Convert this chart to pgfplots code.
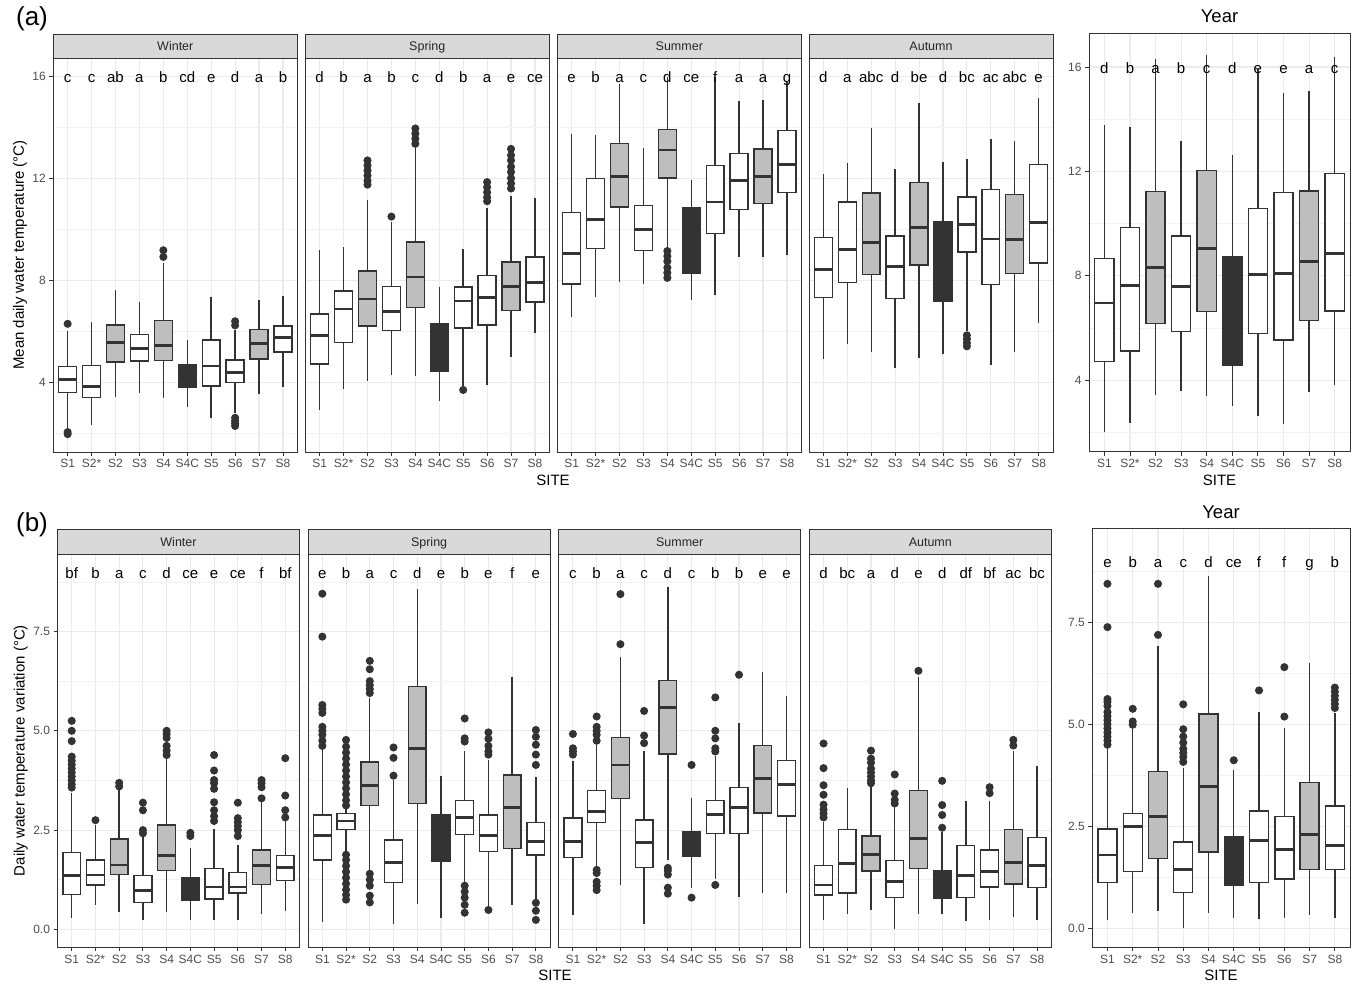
\documentclass[border=0pt]{standalone}
\usepackage{fontspec}
\setmainfont{Liberation Sans}
\usepackage{pgfplots}
\pgfplotsset{compat=1.18}
\usepgfplotslibrary{statistics}
\definecolor{c333}{HTML}{333333}
\definecolor{c4D}{HTML}{4D4D4D}
\definecolor{gridc}{HTML}{EBEBEB}
\definecolor{mgridc}{HTML}{F2F2F2}
\definecolor{bxG}{HTML}{BEBEBE}
\definecolor{stripc}{HTML}{D9D9D9}
\pgfplotsset{
 panel/.style={scale only axis, anchor=south west, xmin=0.4, xmax=10.6,
  xtick={1,...,10}, xticklabels={S1,S2*,S2,S3,S4,S4C,S5,S6,S7,S8},
  tick pos=left, tick align=outside, major tick length=4pt, minor tick length=0pt,
  tick style={c333, line width=0.9pt}, axis line style={c333, line width=0.9pt},
  ticklabel style={font=\fontsize{12}{12}\selectfont, text=c4D},
  grid=both, major grid style={gridc, line width=1.1pt}, minor grid style={mgridc, line width=0.55pt}},
 topY/.style={ytick={4,8,12,16}, yticklabels={4,8,12,16}, minor ytick={2,6,10,14}},
 botY/.style={ytick={0,2.5,5,7.5}, yticklabels={0.0,2.5,5.0,7.5}, minor ytick={1.25,3.75,6.25,8.75}},
 noY/.style={yticklabels={}, ytick style={draw=none}},
 bp/.style={solid, draw=c333, line width=1.4pt, mark=*, mark size=3.3pt,
  mark options={draw=none, fill=c333},
  boxplot/draw direction=y,
  boxplot/box extend=0.75, boxplot/whisker extend=0,
  boxplot/every whisker/.style={line width=1.4pt},
  boxplot/every median/.style={line width=2.8pt}},
}
\tikzset{lt/.style={anchor=base, font=\fontsize{15}{15}\selectfont, inner sep=0pt},
 strip/.style={draw=c333, fill=stripc, line width=0.9pt}}
\newcommand{\B}[7]{\addplot[bp,fill=#2,boxplot prepared={draw position=#1,lower whisker=#3,lower quartile=#4,median=#5,upper quartile=#6,upper whisker=#7}] coordinates}
\newcommand{\Lt}[3]{\node[lt] at (axis cs:#1,#2) {#3};}
\newcommand{\Strip}[5]{\draw[strip] (#1pt,-#3pt) rectangle (#2pt,-#4pt); \node[anchor=base, inner sep=0pt, font=\fontsize{12.5}{12.5}\selectfont, text=black!85] at ({(#1+#2)/2*1pt},{-(#4-7.3)*1pt}) {#5};}
\begin{document}
\begin{tikzpicture}
\useasboundingbox (0,0) rectangle (1351pt,-984pt);
% ================= (a) =================
\begin{axis}[panel, topY, at={(53.3pt,-452pt)}, width=244pt, height=394pt, ymin=1.28, ymax=16.71]
\B{1}{white}{2.2}{3.62}{4.13}{4.64}{6.0}{(1,6.3)(1,2.06)(1,1.98)};
\B{2}{white}{2.34}{3.41}{3.86}{4.67}{6.39}{};
\B{3}{bxG}{3.42}{4.80}{5.56}{6.25}{7.61}{};
\B{4}{white}{3.58}{4.84}{5.33}{5.88}{7.15}{};
\B{5}{bxG}{3.40}{4.86}{5.46}{6.43}{8.7}{(5,8.92)(5,9.18)};
\B{6}{c333}{3.03}{3.82}{4.2}{4.71}{5.65}{};
\B{7}{white}{2.60}{3.87}{4.65}{5.67}{7.35}{};
\B{8}{white}{2.8}{4.0}{4.38}{4.89}{6.04}{(8,6.40)(8,6.24)(8,2.62)(8,2.5)(8,2.4)(8,2.3)};
\B{9}{bxG}{3.55}{4.92}{5.52}{6.08}{7.24}{};
\B{10}{white}{3.82}{5.2}{5.75}{6.21}{7.37}{};
\Lt{1}{15.75}{c}\Lt{2}{15.75}{c}\Lt{3}{15.75}{ab}\Lt{4}{15.75}{a}\Lt{5}{15.75}{b}
\Lt{6}{15.75}{cd}\Lt{7}{15.75}{e}\Lt{8}{15.75}{d}\Lt{9}{15.75}{a}\Lt{10}{15.75}{b}
\end{axis}
\begin{axis}[panel, topY, noY, at={(305.3pt,-452pt)}, width=244pt, height=394pt, ymin=1.28, ymax=16.71]
\B{1}{white}{2.94}{4.72}{5.84}{6.69}{9.20}{};
\B{2}{white}{3.75}{5.58}{6.88}{7.58}{9.31}{};
\B{3}{bxG}{4.05}{6.22}{7.27}{8.37}{11.16}{(3,12.7)(3,12.5)(3,12.3)(3,12.1)(3,11.9)(3,11.75)};
\B{4}{white}{4.30}{6.03}{6.77}{7.76}{10.3}{(4,10.5)};
\B{5}{bxG}{4.25}{6.95}{8.13}{9.50}{13.2}{(5,13.95)(5,13.75)(5,13.55)(5,13.35)};
\B{6}{c333}{3.27}{4.44}{5.4}{6.30}{7.76}{};
\B{7}{white}{3.85}{6.13}{7.19}{7.74}{9.23}{(7,3.71)};
\B{8}{white}{3.92}{6.26}{7.32}{8.20}{10.85}{(8,11.85)(8,11.65)(8,11.45)(8,11.25)(8,11.1)};
\B{9}{bxG}{5.02}{6.82}{7.76}{8.72}{11.3}{(9,13.15)(9,12.9)(9,12.7)(9,12.45)(9,12.25)(9,12.0)(9,11.8)(9,11.6)};
\B{10}{white}{5.93}{7.16}{7.93}{8.92}{11.23}{};
\Lt{1}{15.75}{d}\Lt{2}{15.75}{b}\Lt{3}{15.75}{a}\Lt{4}{15.75}{b}\Lt{5}{15.75}{c}
\Lt{6}{15.75}{d}\Lt{7}{15.75}{b}\Lt{8}{15.75}{a}\Lt{9}{15.75}{e}\Lt{10}{15.75}{ce}
\end{axis}
\begin{axis}[panel, topY, noY, at={(557.3pt,-452pt)}, width=244pt, height=394pt, ymin=1.28, ymax=16.71]
\B{1}{white}{6.56}{7.86}{9.06}{10.65}{13.75}{};
\B{2}{white}{7.35}{9.24}{10.37}{12.0}{13.71}{};
\B{3}{bxG}{7.93}{10.88}{12.08}{13.35}{15.69}{};
\B{4}{white}{7.84}{9.16}{10.0}{10.94}{13.19}{};
\B{5}{bxG}{9.3}{12.01}{13.11}{13.92}{15.97}{(5,9.15)(5,8.95)(5,8.75)(5,8.5)(5,8.3)(5,8.1)};
\B{6}{c333}{7.22}{8.26}{9.6}{10.84}{11.92}{};
\B{7}{white}{7.41}{9.83}{11.07}{12.50}{15.97}{};
\B{8}{white}{8.92}{10.77}{11.92}{12.98}{15.02}{};
\B{9}{bxG}{8.92}{11.01}{12.07}{13.14}{15.08}{};
\B{10}{white}{8.98}{11.44}{12.54}{13.88}{15.78}{};
\Lt{1}{15.75}{e}\Lt{2}{15.75}{b}\Lt{3}{15.75}{a}\Lt{4}{15.75}{c}\Lt{5}{15.75}{d}
\Lt{6}{15.75}{ce}\Lt{7}{15.75}{f}\Lt{8}{15.75}{a}\Lt{9}{15.75}{a}\Lt{10}{15.75}{g}
\end{axis}
\begin{axis}[panel, topY, noY, at={(809pt,-452pt)}, width=244pt, height=394pt, ymin=1.28, ymax=16.71]
\B{1}{white}{4.93}{7.32}{8.42}{9.67}{12.16}{};
\B{2}{white}{5.52}{7.91}{9.20}{11.07}{12.60}{};
\B{3}{bxG}{5.19}{8.22}{9.50}{11.42}{13.96}{};
\B{4}{white}{4.58}{7.29}{8.56}{9.74}{12.35}{};
\B{5}{bxG}{4.95}{8.60}{10.07}{11.83}{14.95}{};
\B{6}{c333}{5.12}{7.19}{8.9}{10.31}{12.63}{};
\B{7}{white}{6.0}{9.12}{10.20}{11.27}{12.77}{(7,5.85)(7,5.7)(7,5.55)(7,5.42)};
\B{8}{white}{4.69}{7.84}{9.62}{11.56}{13.54}{};
\B{9}{bxG}{5.19}{8.27}{9.59}{11.36}{13.44}{};
\B{10}{white}{6.33}{8.68}{10.26}{12.54}{15.16}{};
\Lt{1}{15.75}{d}\Lt{2}{15.75}{a}\Lt{3}{15.75}{abc}\Lt{4}{15.75}{d}\Lt{5}{15.75}{be}
\Lt{6}{15.75}{d}\Lt{7}{15.75}{bc}\Lt{8}{15.75}{ac}\Lt{9}{15.75}{abc}\Lt{10}{15.75}{e}
\end{axis}
\begin{axis}[panel, topY, at={(1089pt,-451.7pt)}, width=261pt, height=418.4pt, ymin=1.26, ymax=17.29]
\B{1}{white}{2.03}{4.71}{6.96}{8.66}{13.77}{};
\B{2}{white}{2.37}{5.12}{7.63}{9.84}{13.69}{};
\B{3}{bxG}{3.42}{6.18}{8.31}{11.22}{16.29}{};
\B{4}{white}{3.60}{5.87}{7.58}{9.52}{13.18}{};
\B{5}{bxG}{3.41}{6.63}{9.04}{12.03}{16.45}{};
\B{6}{c333}{3.02}{4.58}{6.3}{8.73}{12.62}{};
\B{7}{white}{2.63}{5.80}{8.06}{10.57}{15.91}{};
\B{8}{white}{2.32}{5.54}{8.09}{11.20}{14.99}{};
\B{9}{bxG}{3.55}{6.28}{8.54}{11.25}{15.08}{};
\B{10}{white}{3.82}{6.65}{8.84}{11.91}{16.37}{};
\Lt{1}{15.76}{d}\Lt{2}{15.76}{b}\Lt{3}{15.76}{a}\Lt{4}{15.76}{b}\Lt{5}{15.76}{c}
\Lt{6}{15.76}{d}\Lt{7}{15.76}{e}\Lt{8}{15.76}{e}\Lt{9}{15.76}{a}\Lt{10}{15.76}{c}
\end{axis}
\Strip{53.3}{297.3}{34.5}{58}{Winter}
\Strip{305.3}{549.3}{34.5}{58}{Spring}
\Strip{557.3}{801.3}{34.5}{58}{Summer}
\Strip{809}{1053}{34.5}{58}{Autumn}
\node[rotate=90, font=\fontsize{15}{15}\selectfont] at (20pt,-255pt) {Mean daily water temperature (°C)};
\node[font=\fontsize{15}{15}\selectfont] at (553pt,-480pt) {SITE};
\node[font=\fontsize{15}{15}\selectfont] at (1219.5pt,-480pt) {SITE};
\node[font=\fontsize{18.5}{18.5}\selectfont, anchor=base] at (1219.5pt,-22.7pt) {Year};
\node[font=\fontsize{26}{26}\selectfont] at (32pt,-19pt) {(a)};
% ================= (b) =================
\begin{axis}[panel, botY, at={(57.5pt,-947.3pt)}, width=242pt, height=393.3pt, ymin=-0.45, ymax=9.45]
\B{1}{white}{0.29}{0.88}{1.36}{1.93}{3.43}{(1,5.25)(1,5.0)(1,4.74)(1,4.35)(1,4.25)(1,4.15)(1,4.05)(1,3.95)(1,3.85)(1,3.75)(1,3.65)(1,3.57)};
\B{2}{white}{0.61}{1.12}{1.37}{1.75}{2.63}{(2,2.75)};
\B{3}{bxG}{0.43}{1.39}{1.62}{2.28}{3.5}{(3,3.69)(3,3.6)};
\B{4}{white}{0.24}{0.68}{0.98}{1.36}{2.38}{(4,3.19)(4,3.0)(4,2.5)(4,2.42)};
\B{5}{bxG}{0.43}{1.49}{1.86}{2.63}{4.31}{(5,5.0)(5,4.92)(5,4.82)(5,4.62)(5,4.5)(5,4.39)};
\B{6}{c333}{0.24}{0.73}{1.03}{1.30}{2.04}{(6,2.43)(6,2.35)};
\B{7}{white}{0.24}{0.77}{1.07}{1.53}{2.54}{(7,4.39)(7,4.0)(7,3.76)(7,3.68)(7,3.54)(7,3.2)(7,3.0)(7,2.85)(7,2.73)};
\B{8}{white}{0.24}{0.92}{1.07}{1.44}{2.12}{(8,3.19)(8,2.8)(8,2.7)(8,2.6)(8,2.5)(8,2.35)};
\B{9}{bxG}{0.38}{1.13}{1.61}{2.0}{3.22}{(9,3.76)(9,3.68)(9,3.58)(9,3.3)};
\B{10}{white}{0.46}{1.23}{1.55}{1.86}{2.75}{(10,4.31)(10,3.37)(10,3.0)(10,2.82)};
\Lt{1}{8.84}{bf}\Lt{2}{8.84}{b}\Lt{3}{8.84}{a}\Lt{4}{8.84}{c}\Lt{5}{8.84}{d}
\Lt{6}{8.84}{ce}\Lt{7}{8.84}{e}\Lt{8}{8.84}{ce}\Lt{9}{8.84}{f}\Lt{10}{8.84}{bf}
\end{axis}
\begin{axis}[panel, botY, noY, at={(308.1pt,-947.3pt)}, width=242pt, height=393.3pt, ymin=-0.45, ymax=9.45]
\B{1}{white}{0.19}{1.75}{2.37}{2.88}{4.56}{(1,8.45)(1,7.37)(1,5.65)(1,5.55)(1,5.45)(1,5.1)(1,5.0)(1,4.9)(1,4.75)(1,4.62)};
\B{2}{white}{1.96}{2.52}{2.73}{2.92}{3.05}{(2,4.77)(2,4.6)(2,4.45)(2,4.3)(2,4.15)(2,4.0)(2,3.85)(2,3.7)(2,3.55)(2,3.4)(2,3.25)(2,3.12)(2,1.88)(2,1.75)(2,1.6)(2,1.45)(2,1.3)(2,1.15)(2,1.0)(2,0.87)(2,0.75)};
\B{3}{bxG}{1.45}{3.12}{3.63}{4.21}{5.82}{(3,6.76)(3,6.55)(3,6.25)(3,6.15)(3,6.05)(3,5.95)(3,1.4)(3,1.25)(3,1.1)(3,0.85)(3,0.68)};
\B{4}{white}{0.13}{1.18}{1.69}{2.25}{3.75}{(4,4.58)(4,4.32)(4,3.87)};
\B{5}{bxG}{0.63}{3.17}{4.56}{6.12}{8.56}{};
\B{6}{c333}{0.29}{1.72}{2.3}{2.88}{3.87}{};
\B{7}{white}{1.16}{2.39}{2.81}{3.24}{4.48}{(7,5.31)(7,4.81)(7,4.73)(7,1.1)(7,0.95)(7,0.8)(7,0.62)(7,0.42)};
\B{8}{white}{0.53}{1.96}{2.36}{2.88}{4.27}{(8,4.96)(8,4.8)(8,4.62)(8,4.48)(8,4.4)(8,0.49)};
\B{9}{bxG}{0.61}{2.04}{3.06}{3.89}{6.36}{};
\B{10}{white}{0.74}{1.87}{2.22}{2.69}{3.83}{(10,5.02)(10,4.85)(10,4.65)(10,4.4)(10,4.14)(10,0.67)(10,0.47)(10,0.24)};
\Lt{1}{8.84}{e}\Lt{2}{8.84}{b}\Lt{3}{8.84}{a}\Lt{4}{8.84}{c}\Lt{5}{8.84}{d}
\Lt{6}{8.84}{e}\Lt{7}{8.84}{b}\Lt{8}{8.84}{e}\Lt{9}{8.84}{f}\Lt{10}{8.84}{e}
\end{axis}
\begin{axis}[panel, botY, noY, at={(558.7pt,-947.3pt)}, width=242pt, height=393.3pt, ymin=-0.45, ymax=9.45]
\B{1}{white}{0.36}{1.81}{2.22}{2.81}{4.25}{(1,4.92)(1,4.56)(1,4.48)(1,4.4)};
\B{2}{white}{1.54}{2.69}{2.97}{3.49}{4.64}{(2,5.36)(2,5.1)(2,5.0)(2,4.9)(2,4.75)(2,1.5)(2,1.42)(2,1.2)(2,1.1)(2,0.99)};
\B{3}{bxG}{1.12}{3.30}{4.14}{4.83}{6.87}{(3,8.44)(3,7.18)};
\B{4}{white}{0.13}{1.56}{2.18}{2.75}{4.48}{(4,5.5)(4,4.88)(4,4.69)};
\B{5}{bxG}{1.75}{4.42}{5.58}{6.26}{8.63}{(5,1.55)(5,1.48)(5,1.38)(5,1.05)(5,0.9)};
\B{6}{c333}{1.05}{1.85}{2.17}{2.45}{3.30}{(6,4.14)(6,0.80)};
\B{7}{white}{1.28}{2.41}{2.90}{3.25}{4.37}{(7,5.84)(7,5.0)(7,4.81)(7,4.56)(7,4.48)(7,1.12)};
\B{8}{white}{0.82}{2.42}{3.06}{3.58}{5.19}{(8,6.41)};
\B{9}{bxG}{0.92}{2.93}{3.80}{4.63}{6.49}{};
\B{10}{white}{0.91}{2.86}{3.64}{4.25}{5.88}{};
\Lt{1}{8.84}{c}\Lt{2}{8.84}{b}\Lt{3}{8.84}{a}\Lt{4}{8.84}{c}\Lt{5}{8.84}{d}
\Lt{6}{8.84}{c}\Lt{7}{8.84}{b}\Lt{8}{8.84}{b}\Lt{9}{8.84}{e}\Lt{10}{8.84}{e}
\end{axis}
\begin{axis}[panel, botY, noY, at={(809.3pt,-947.3pt)}, width=242pt, height=393.3pt, ymin=-0.45, ymax=9.45]
\B{1}{white}{0.25}{0.87}{1.12}{1.61}{2.71}{(1,4.68)(1,4.06)(1,3.63)(1,3.39)(1,3.14)(1,3.02)(1,2.92)(1,2.82)};
\B{2}{white}{0.39}{0.92}{1.66}{2.52}{3.55}{};
\B{3}{bxG}{0.50}{1.47}{1.89}{2.35}{3.59}{(3,4.5)(3,4.3)(3,4.2)(3,4.05)(3,3.95)(3,3.85)(3,3.75)(3,3.68)};
\B{4}{white}{0.0}{0.80}{1.21}{1.74}{3.09}{(4,3.90)(4,3.42)(4,3.26)(4,3.17)};
\B{5}{bxG}{0.38}{1.54}{2.29}{3.49}{6.36}{(5,6.51)};
\B{6}{c333}{0.38}{0.78}{1.12}{1.49}{2.45}{(6,3.74)(6,3.13)(6,2.88)(6,2.56)};
\B{7}{white}{0.21}{0.81}{1.35}{2.11}{3.23}{};
\B{8}{white}{0.24}{1.07}{1.45}{2.0}{3.23}{(8,3.58)(8,3.43)};
\B{9}{bxG}{0.32}{1.14}{1.69}{2.52}{4.48}{(9,4.77)(9,4.63)};
\B{10}{white}{0.25}{1.05}{1.60}{2.32}{4.12}{};
\Lt{1}{8.84}{d}\Lt{2}{8.84}{bc}\Lt{3}{8.84}{a}\Lt{4}{8.84}{d}\Lt{5}{8.84}{e}
\Lt{6}{8.84}{d}\Lt{7}{8.84}{df}\Lt{8}{8.84}{bf}\Lt{9}{8.84}{ac}\Lt{10}{8.84}{bc}
\end{axis}
\begin{axis}[panel, botY, at={(1092.3pt,-947.3pt)}, width=257.7pt, height=419pt, ymin=-0.46, ymax=9.80]
\B{1}{white}{0.21}{1.12}{1.80}{2.44}{4.40}{(1,8.44)(1,7.38)(1,5.62)(1,5.55)(1,5.45)(1,5.3)(1,5.2)(1,5.1)(1,5.0)(1,4.9)(1,4.8)(1,4.7)(1,4.6)(1,4.5)};
\B{2}{white}{0.39}{1.40}{2.49}{2.82}{4.89}{(2,5.38)(2,5.07)(2,4.99)};
\B{3}{bxG}{0.44}{1.71}{2.74}{3.84}{6.91}{(3,8.44)(3,7.19)};
\B{4}{white}{0.01}{0.88}{1.44}{2.12}{3.93}{(4,5.49)(4,4.88)(4,4.7)(4,4.55)(4,4.4)(4,4.3)(4,4.2)(4,4.08)};
\B{5}{bxG}{0.38}{1.87}{3.47}{5.25}{8.64}{};
\B{6}{c333}{0.25}{1.05}{1.64}{2.25}{3.89}{(6,4.12)};
\B{7}{white}{0.23}{1.13}{2.16}{2.88}{5.30}{(7,5.83)};
\B{8}{white}{0.25}{1.21}{1.94}{2.75}{4.92}{(8,6.40)(8,5.19)};
\B{9}{bxG}{0.33}{1.44}{2.31}{3.58}{6.50}{};
\B{10}{white}{0.25}{1.44}{2.03}{3.00}{5.27}{(10,5.90)(10,5.8)(10,5.7)(10,5.6)(10,5.5)(10,5.4)};
\Lt{1}{8.84}{e}\Lt{2}{8.84}{b}\Lt{3}{8.84}{a}\Lt{4}{8.84}{c}\Lt{5}{8.84}{d}
\Lt{6}{8.84}{ce}\Lt{7}{8.84}{f}\Lt{8}{8.84}{f}\Lt{9}{8.84}{g}\Lt{10}{8.84}{b}
\end{axis}
\Strip{57.5}{299.5}{529.3}{554}{Winter}
\Strip{308.1}{550.1}{529.3}{554}{Spring}
\Strip{558.7}{800.7}{529.3}{554}{Summer}
\Strip{809.3}{1051.3}{529.3}{554}{Autumn}
\node[rotate=90, font=\fontsize{15}{15}\selectfont] at (20.7pt,-750.5pt) {Daily water temperature variation (°C)};
\node[font=\fontsize{15}{15}\selectfont] at (555pt,-975pt) {SITE};
\node[font=\fontsize{15}{15}\selectfont] at (1221pt,-975pt) {SITE};
\node[font=\fontsize{18.5}{18.5}\selectfont, anchor=base] at (1221pt,-518.3pt) {Year};
\node[font=\fontsize{26}{26}\selectfont] at (32pt,-524.5pt) {(b)};
\end{tikzpicture}
\end{document}
